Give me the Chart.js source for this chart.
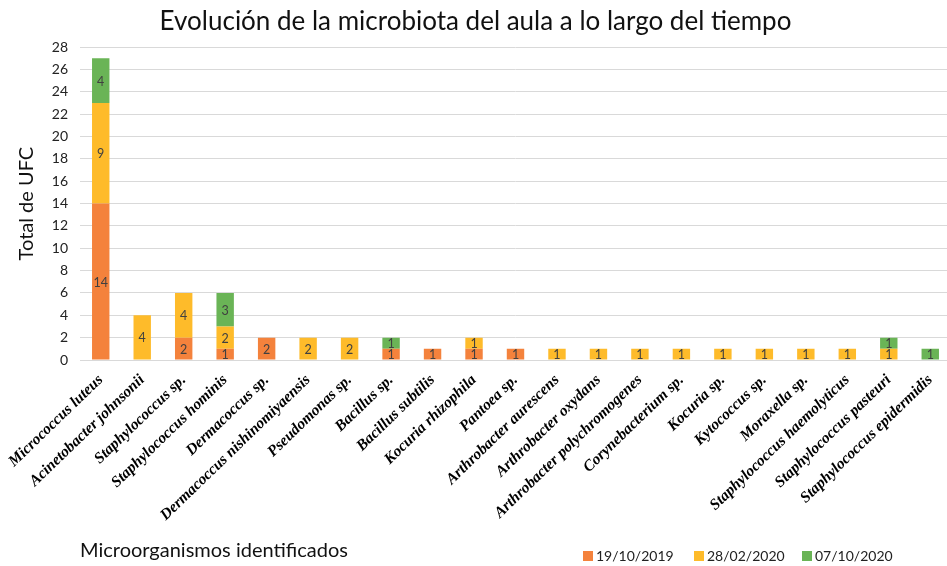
<!DOCTYPE html>
<html><head><meta charset="utf-8">
<script src="https://cdn.jsdelivr.net/npm/chart.js@4"></script>
<style>html,body{margin:0;padding:0;overflow:hidden;background:#fff}#wrap{width:951px;height:566px;position:relative}</style>
</head><body><div id="wrap"><canvas id="c"></canvas></div>
<script>
const categories = [
  "Micrococcus luteus","Acinetobacter johnsonii","Staphylococcus sp.","Staphylococcus hominis",
  "Dermacoccus sp.","Dermacoccus nishinomiyaensis","Pseudomonas sp.","Bacillus sp.","Bacillus subtilis",
  "Kocuria rhizophila","Pantoea sp.","Arthrobacter aurescens","Arthrobacter oxydans",
  "Arthrobacter polychromogenes","Corynebacterium sp.","Kocuria sp.","Kytococcus sp.","Moraxella sp.",
  "Staphylococcus haemolyticus","Staphylococcus pasteuri","Staphylococcus epidermidis"
];
const seriesNames = ["19/10/2019","28/02/2020","07/10/2020"];
const s2019_10_19 = [14,0,2,1,2,0,0,1,1,1,1,0,0,0,0,0,0,0,0,0,0];
const s2020_02_28 = [9,4,4,2,0,2,2,0,0,1,0,1,1,1,1,1,1,1,1,1,0];
const s2020_10_07 = [4,0,0,3,0,0,0,1,0,0,0,0,0,0,0,0,0,0,0,1,1];
const yTicks = [0,2,4,6,8,10,12,14,16,18,20,22,24,26,28];
const colors = ["#F4823C","#FEBB2A","#6AB456"];

const valueLabels = {
  id:'valueLabels',
  afterDatasetsDraw(chart){
    const ctx = chart.ctx; ctx.save();
    ctx.font = '12.5px Lato'; ctx.fillStyle = '#404040';
    ctx.textAlign = 'center'; ctx.textBaseline = 'middle';
    chart.data.datasets.forEach((ds,i)=>{
      const meta = chart.getDatasetMeta(i);
      meta.data.forEach((el,j)=>{
        const v = ds.data[j]; if(!v) return;
        const p = el.getProps(['x','y','base'], true);
        ctx.fillText(String(v), p.x, (p.y+p.base)/2 + 1);
      });
    });
    ctx.restore();
  }
};
const extras = {
  id:'extras',
  afterDraw(chart){
    const ctx = chart.ctx; ctx.save();
    ctx.fillStyle = '#111'; ctx.font = '20px Lato';
    ctx.textAlign = 'left'; ctx.textBaseline = 'middle';
    ctx.fillText('Microorganismos identificados', 80, 551);
    const xs = [583,694,802];
    ctx.font = '14px Lato';
    chart.data.datasets.forEach((ds,i)=>{
      ctx.fillStyle = ds.backgroundColor;
      ctx.fillRect(xs[i], 551, 10, 10);
      ctx.fillStyle = '#222';
      ctx.fillText(ds.label, xs[i]+13, 556);
    });
    ctx.restore();
  }
};

new Chart(document.getElementById('c'), {
  type:'bar',
  data:{
    labels: categories,
    datasets: [s2019_10_19, s2020_02_28, s2020_10_07].map((d,i)=>({
      label: seriesNames[i], data: d, backgroundColor: colors[i],
      barPercentage: 0.42, categoryPercentage: 1
    }))
  },
  options:{
    responsive:true, maintainAspectRatio:false, animation:false,
    layout:{padding:0},
    plugins:{
      legend:{display:false},
      tooltip:{enabled:false},
      title:{display:true, text:'Evolución de la microbiota del aula a lo largo del tiempo',
        color:'#111', font:{family:'Lato', size:26, weight:'normal'}, padding:{top:6,bottom:10}, align:'center'}
    },
    scales:{
      x:{
        stacked:true,
        grid:{display:false},
        border:{display:false},
        ticks:{autoSkip:false, minRotation:44, maxRotation:44, padding:3, color:'#000',
          font:{family:'Liberation Serif', style:'italic', weight:'bold', size:15.5}},
        afterFit(s){ s.height = 206; }
      },
      y:{
        stacked:true, min:0, max:28,
        afterBuildTicks(s){ s.ticks = yTicks.map(v=>({value:v})); },
        grid:{color:'#d9d9d9', lineWidth:1, drawTicks:false},
        border:{display:false},
        ticks:{padding:12, color:'#222', font:{family:'Lato', size:14}},
        title:{display:true, text:'Total de UFC', color:'#111', font:{family:'Lato', size:20}, padding:{top:15,bottom:0}},
        afterFit(s){ s.width = 80; }
      }
    }
  },
  plugins:[valueLabels, extras]
});
</script></body></html>
